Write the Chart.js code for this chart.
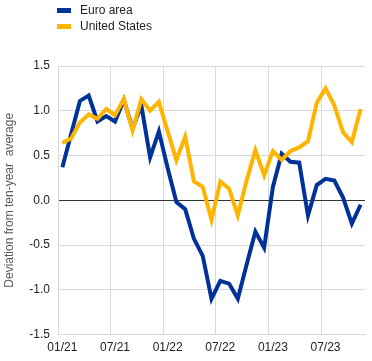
<!DOCTYPE html>
<html>
<head>
<meta charset="utf-8">
<script src="https://cdn.jsdelivr.net/npm/chart.js@4"></script>
<style>
  body { margin: 0; background: #fff; font-family: "Liberation Sans", Arial, sans-serif; }
  #wrap { position: relative; width: 372px; height: 361px; }
  #legend { position: absolute; left: 57px; top: 2px; font-size: 12px; color: #222; }
  .item { display: flex; align-items: center; height: 16px; }
  .swatch { width: 14px; height: 5px; margin-right: 9px; }
</style>
</head>
<body>
<div id="wrap">
  <canvas id="chart" width="372" height="361"></canvas>
  <div id="legend"></div>
</div>
<script>
const months = [
    "01/21", "02/21", "03/21", "04/21", "05/21", "06/21", "07/21", "08/21", "09/21", "10/21", "11/21", "12/21",
    "01/22", "02/22", "03/22", "04/22", "05/22", "06/22", "07/22", "08/22", "09/22", "10/22", "11/22", "12/22",
    "01/23", "02/23", "03/23", "04/23", "05/23", "06/23", "07/23", "08/23", "09/23", "10/23", "11/23"
];

const euroArea = [
    0.37, 0.74, 1.11, 1.17, 0.88, 0.94, 0.88, 1.12, 0.80, 1.06, 0.48, 0.77,
    0.36, -0.02, -0.10, -0.43, -0.62, -1.10, -0.90, -0.93, -1.10, -0.72, -0.35, -0.53,
    0.15, 0.52, 0.43, 0.42, -0.17, 0.17, 0.24, 0.22, 0.03, -0.26, -0.05
];

const unitedStates = [
    0.64, 0.69, 0.87, 0.96, 0.91, 1.02, 0.95, 1.13, 0.78, 1.13, 1.00, 1.10,
    0.77, 0.45, 0.71, 0.21, 0.15, -0.22, 0.21, 0.13, -0.17, 0.22, 0.56, 0.28,
    0.55, 0.45, 0.55, 0.59, 0.66, 1.09, 1.25, 1.06, 0.76, 0.65, 1.02
];

const yTicks = [-1.5, -1.0, -0.5, 0.0, 0.5, 1.0, 1.5];

const BLUE = "#003299";
const ORANGE = "#ffb400";
const GRID = "#d9d9d9";

const series = [
    { label: "Euro area", data: euroArea, color: BLUE, order: 1 },
    { label: "United States", data: unitedStates, color: ORANGE, order: 0 }
];

const legendEl = document.getElementById("legend");
series.forEach(s => {
    const item = document.createElement("div");
    item.className = "item";
    item.innerHTML = `<span class="swatch" style="background:${s.color}"></span><span>${s.label}</span>`;
    legendEl.appendChild(item);
});

Chart.defaults.font.family = '"Liberation Sans", Arial, sans-serif';
Chart.defaults.font.size = 12;
Chart.defaults.color = "#222";

const ctx = document.getElementById("chart").getContext("2d");

new Chart(ctx, {
    type: "line",
    data: {
        labels: months,
        datasets: series.map(s => ({
            label: s.label,
            data: s.data,
            borderColor: s.color,
            backgroundColor: s.color,
            borderWidth: 4,
            pointRadius: 0,
            tension: 0,
            fill: false,
            order: s.order
        }))
    },
    options: {
        responsive: false,
        animation: false,
        layout: { padding: { top: 66, right: 7, left: 2, bottom: 0 } },
        plugins: {
            legend: { display: false },
            tooltip: { enabled: false }
        },
        scales: {
            x: {
                type: "category",
                offset: true,
                grid: {
                    offset: true,
                    drawTicks: false,
                    color: c => (c.index % 6 === 0 ? GRID : "rgba(0,0,0,0)"),
                    lineWidth: 1
                },
                border: { color: GRID },
                ticks: {
                    autoSkip: false,
                    maxRotation: 0,
                    padding: 6,
                    color: "#222",
                    callback: (v, i) => (i % 6 === 0 ? months[i] : "")
                }
            },
            y: {
                min: yTicks[0],
                max: yTicks[yTicks.length - 1],
                afterBuildTicks: axis => {
                    axis.ticks = yTicks.map(v => ({ value: v }));
                },
                afterFit: axis => { axis.width = 56; },
                grid: {
                    drawTicks: false,
                    color: c => (c.tick && c.tick.value === 0 ? "#333333" : GRID),
                    lineWidth: 1
                },
                border: { color: GRID },
                ticks: {
                    padding: 8,
                    color: "#222",
                    callback: v => v.toFixed(1)
                },
                title: {
                    display: true,
                    text: "Deviation from ten-year  average",
                    color: "#595959",
                    font: { size: 12 },
                    padding: { top: 0, bottom: 4 }
                }
            }
        }
    }
});
</script>
</body>
</html>
